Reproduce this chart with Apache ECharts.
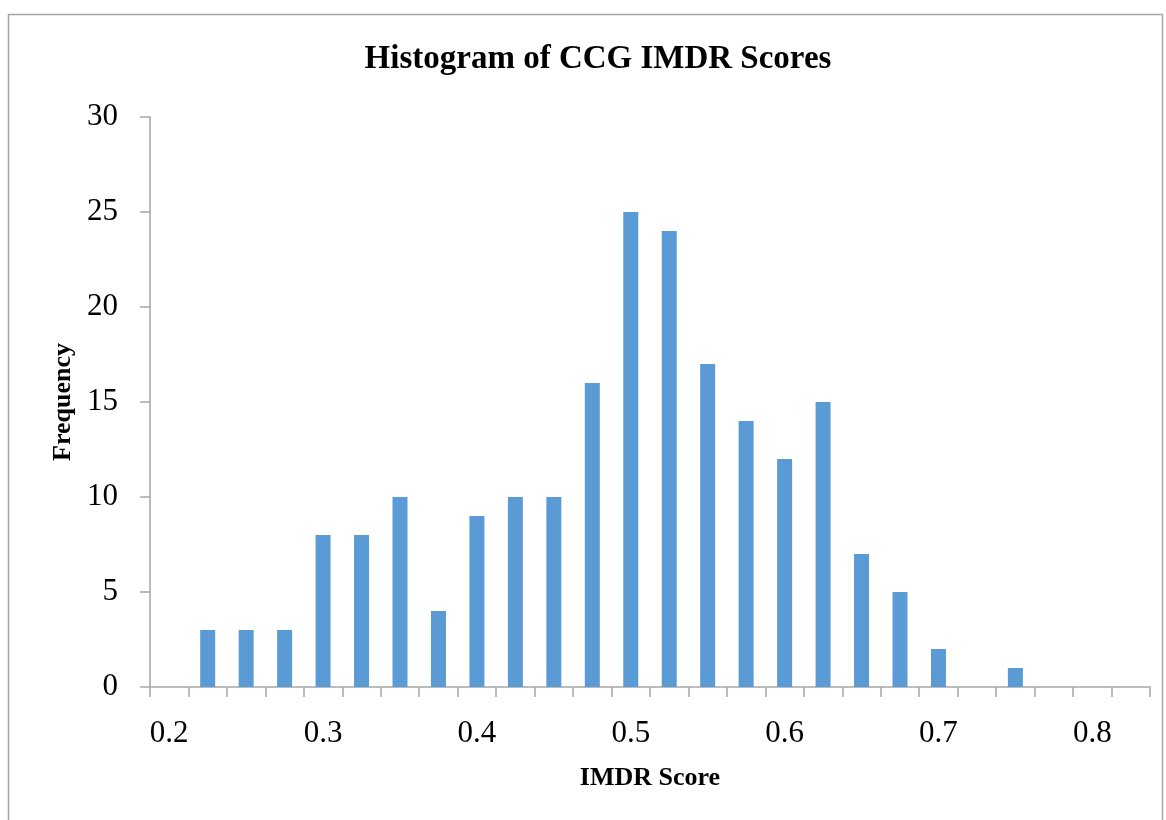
<!DOCTYPE html>
<html>
<head>
<meta charset="utf-8">
<script src="https://cdn.jsdelivr.net/npm/echarts@6/dist/echarts.min.js"></script>
<style>
	html, body { margin: 0; padding: 0; background: #fff; }
	#main { width: 1166px; height: 820px; }
</style>
</head>
<body>
<div id="main"></div>
<script type="text/javascript">
	// bins (0.025 wide) and their counts
	var scoreBins = ['0.2', '0.225', '0.25', '0.275', '0.3', '0.325', '0.35', '0.375', '0.4', '0.425',
		'0.45', '0.475', '0.5', '0.525', '0.55', '0.575', '0.6', '0.625', '0.65', '0.675',
		'0.7', '0.725', '0.75', '0.775', '0.8', '0.825'];
	var frequency = [0, 3, 3, 3, 8, 8, 10, 4, 9, 10,
		10, 16, 25, 24, 17, 14, 12, 15, 7, 5,
		2, 0, 1, 0, 0, 0];
	var yTicks = { min: 0, max: 30, interval: 5 };

	var font = '"Liberation Serif", "DejaVu Serif", serif';
	var chart = echarts.init(document.getElementById('main'));
	var option = {
		animation : false,
		title : {
			text : 'Histogram of CCG IMDR Scores',
			left : 593,
			textAlign : 'center',
			top : 38,
			textStyle : {
				fontFamily : font,
				fontWeight : 'bold',
				fontSize : 33,
				color : '#000'
			}
		},
		graphic : [ {
			type : 'rect',
			shape : { x : 8.5, y : 14.5, width : 1154, height : 830 },
			style : { fill : 'none', stroke : '#a6a6a6', lineWidth : 1.5 },
			silent : true
		} ],
		grid : {
			left : 150,
			right : 16,
			top : 117,
			bottom : 133
		},
		xAxis : {
			type : 'category',
			data : scoreBins,
			name : 'IMDR Score',
			nameLocation : 'middle',
			nameGap : 78,
			nameTextStyle : {
				fontFamily : font,
				fontWeight : 'bold',
				fontSize : 26,
				color : '#000'
			},
			axisLine : { lineStyle : { color : '#a6a6a6', width : 1.5 } },
			axisTick : { show : true, interval : 0, length : 10, lineStyle : { color : '#a6a6a6', width : 1.5 } },
			axisLabel : {
				interval : 3,
				margin : 31,
				fontFamily : font,
				fontSize : 31,
				color : '#000'
			},
			splitLine : { show : false }
		},
		yAxis : {
			type : 'value',
			min : yTicks.min,
			max : yTicks.max,
			interval : yTicks.interval,
			name : 'Frequency',
			nameLocation : 'middle',
			nameGap : 73,
			nameTextStyle : {
				fontFamily : font,
				fontWeight : 'bold',
				fontSize : 26,
				color : '#000'
			},
			axisLine : { show : true, lineStyle : { color : '#a6a6a6', width : 1.5 } },
			axisTick : { show : true, length : 10, lineStyle : { color : '#a6a6a6', width : 1.5 } },
			axisLabel : {
				margin : 32,
				fontFamily : font,
				fontSize : 31,
				color : '#000'
			},
			splitLine : { show : false }
		},
		series : [ {
			name : 'Frequency',
			type : 'bar',
			data : frequency,
			barWidth : 15,
			itemStyle : { color : '#5b9bd5' }
		} ]
	};
	chart.setOption(option);
</script>
</body>
</html>
